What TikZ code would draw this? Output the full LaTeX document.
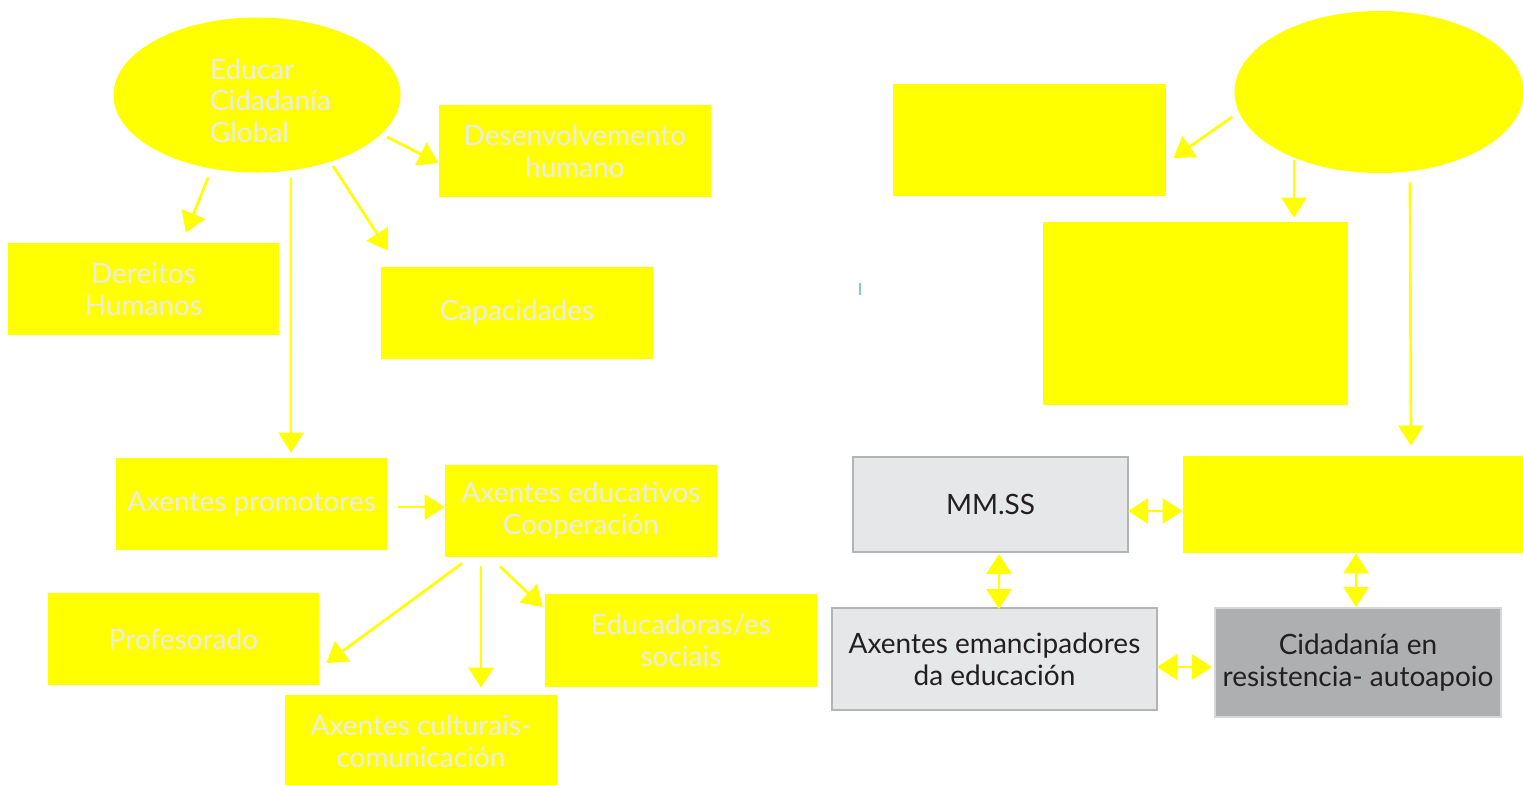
\documentclass[tikz,border=0pt]{standalone}
\usepackage{fontspec}
\setmainfont{Lato}
\usepackage{tikz}
\usetikzlibrary{calc,shapes,arrows.meta}
\definecolor{markyellow}{HTML}{FFFF00}
\definecolor{softtext}{HTML}{EBEBEB}
\definecolor{darktext}{HTML}{231F20}
\definecolor{lightgrey}{HTML}{E6E7E8}
\definecolor{midgrey}{HTML}{AEAFB1}
\definecolor{edgegrey}{HTML}{B3B4B6}
\definecolor{paleedge}{HTML}{D6D7D9}
\definecolor{tealmark}{HTML}{86C8C8}
\tikzstyle{block} = [rectangle, fill=markyellow, text=softtext, align=center, inner sep=0pt,
  font=\fontsize{14}{16}\selectfont]
\tikzstyle{bubble} = [ellipse, fill=markyellow, text=softtext, inner sep=0pt,
  font=\fontsize{14}{15.75}\selectfont]
\tikzstyle{greybox} = [rectangle, draw=edgegrey, line width=1pt, fill=lightgrey, text=darktext,
  align=center, inner sep=0pt, font=\fontsize{14}{16}\selectfont]
\tikzstyle{line} = [draw, markyellow, line width=1.35pt, -{Triangle[length=10pt,width=12.5pt]}]
\tikzstyle{both} = [draw, markyellow, line width=1.35pt,
  {Triangle[length=10pt,width=12.5pt]}-{Triangle[length=10pt,width=12.5pt]}]

\begin{document}
\begin{tikzpicture}[x=0.5pt, y=-0.5pt]
    \useasboundingbox (0,0) rectangle (1523,784);
    % Left map
    \node [bubble, minimum width=143.5pt, minimum height=77.5pt, text width=47pt, align=left]
      (educar) at (257,95) {\rule{0pt}{16pt}Educar\\Cidadanía\\Global};
    \node [block, minimum width=136pt, minimum height=46pt] (desen) at (575,151)
      {Desenvolvemento\\humano};
    \node [block, minimum width=135.5pt, minimum height=46pt] (dereitos) at (143.5,289)
      {Dereitos\\Humanos};
    \node [block, minimum width=136pt, minimum height=46pt] (capac) at (517,313)
      {Capacidades};
    \node [block, minimum width=135.5pt, minimum height=46pt] (promot) at (251.5,504)
      {Axentes promotores};
    \node [block, minimum width=136pt, minimum height=46pt] (educ) at (581,511)
      {Axentes educativos\\Cooperación};
    \node [block, minimum width=135.5pt, minimum height=46pt] (profes) at (183.5,639)
      {Profesorado};
    \node [block, minimum width=136pt, minimum height=46.5pt] (educad) at (681,640.5)
      {Educadoras/es\\sociais};
    \node [block, minimum width=136pt, minimum height=46pt] (cultur) at (421,741)
      {Axentes culturais-\\comunicación};
    % Right map
    \node [bubble, minimum width=144.5pt, minimum height=81pt] (fonte) at (1379,92) {};
    \node [block, minimum width=136.5pt, minimum height=56pt] (topo) at (1029.5,140) {};
    \node [block, minimum width=152.5pt, minimum height=91.5pt] (centro) at (1195.5,313.5) {};
    \node [block, minimum width=170pt, minimum height=48.5pt] (eixo) at (1353,504.5) {};
    \node [greybox, minimum width=137.5pt, minimum height=47.5pt] (mmss) at (990.5,504.5) {MM.SS};
    \node [greybox, minimum width=162.5pt, minimum height=51pt] (emanc) at (994.5,659)
      {Axentes emancipadores\\da educación};
    \node [greybox, draw=paleedge, fill=midgrey, minimum width=143pt, minimum height=54.5pt]
      (resist) at (1358,662.5) {Cidadanía en\\resistencia- autoapoio};
    \draw [tealmark, line width=1pt] (860,283) -- (860,295);
    % Lines
    \path [line] ($(educar.south)+(-49,5)$) -- ($(dereitos.north)+(42.5,-10)$);
    \path [line] ($(educar.south)+(34,5)$) -- ($(promot.north)+(39.5,-5)$);
    \path [line] ($(educar.south)+(76,-7)$) -- ($(capac.north)+(-129,-16)$);
    \path [line] ($(educar.east)+(-14,42)$) -- ($(desen.west)+(0,12)$);
    \path [line] ($(promot.east)+(11,3)$) -- ($(educ.west)+(0,-4)$);
    \path [line] ($(educ.south)+(-119,6)$) -- ($(profes.east)+(7,24)$);
    \path [line] ($(educ.south)+(-100,9)$) -- ($(cultur.north)+(60,-7)$);
    \path [line] ($(educ.south)+(-81,9)$) -- ($(educad.west)+(-2,-33.5)$);
    \path [line] ($(fonte.west)+(-2,25)$) -- ($(topo.east)+(7,18)$);
    \path [line] ($(fonte.south)+(-85,-13)$) -- ($(centro.north)+(98.5,-4)$);
    \path [line] ($(fonte.south)+(31,9)$) -- ($(eixo.north)+(58,-10)$);
    \path [both] ($(mmss.east)+(-1,6.5)$) -- ($(eixo.west)+(0,6.5)$);
    \path [both] ($(mmss.south)+(8.5,1)$) -- ($(emanc.north)+(4.5,2)$);
    \path [both] ($(eixo.south)+(3,0)$) -- ($(resist.north)+(-2,0)$);
    \path [both] ($(emanc.east)+(-1,8)$) -- ($(resist.west)+(-2,4.5)$);
\end{tikzpicture}
\end{document}
